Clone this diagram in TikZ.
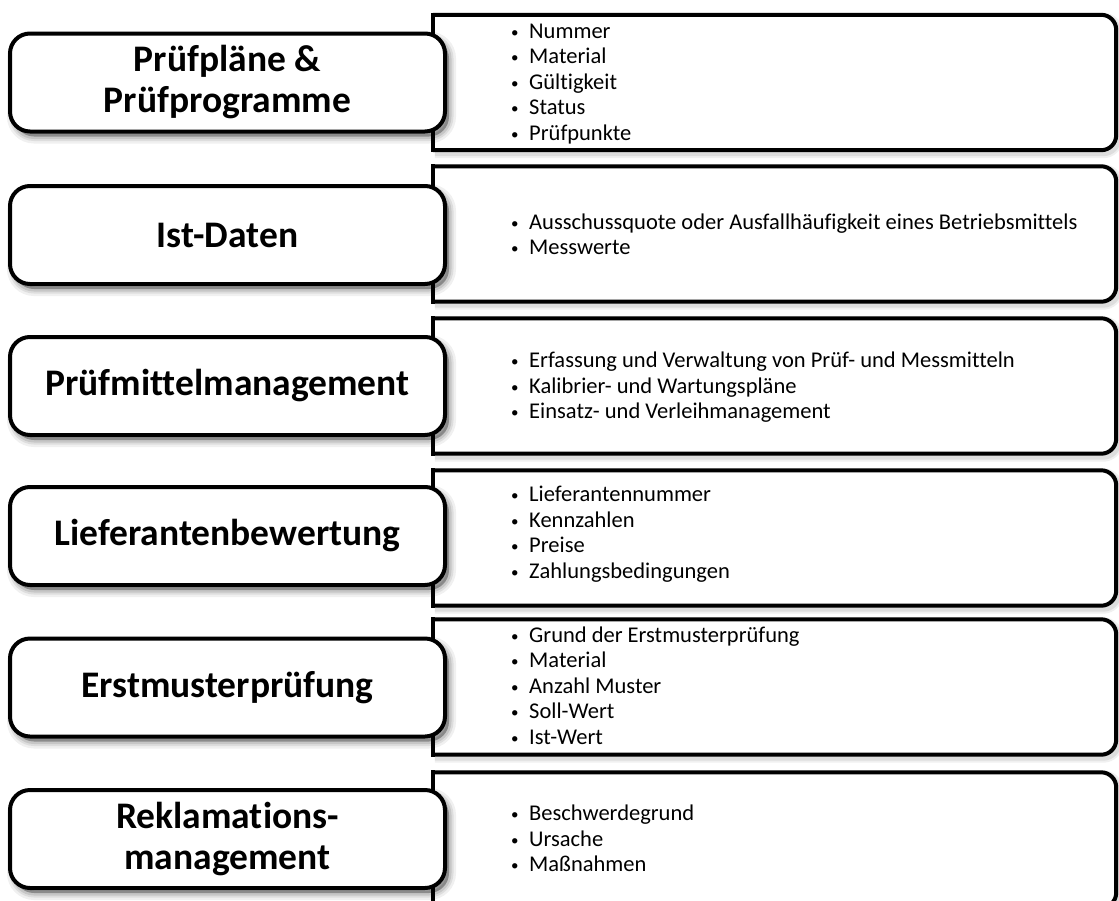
\documentclass[tikz,border=0pt]{standalone}
\usepackage{fontspec}
\setmainfont{Carlito}[Ligatures=NoCommon]

\tikzset{
  % soft drop shadow built from a few translucent, widening strokes
  softshadow/.style={
    preaction={fill=black, fill opacity=0.30, transform canvas={xshift=4pt, yshift=-5pt}},
    preaction={draw=black, draw opacity=0.06, line width=14pt, transform canvas={xshift=4pt, yshift=-5pt}},
    preaction={draw=black, draw opacity=0.08, line width=9pt, transform canvas={xshift=4pt, yshift=-5pt}},
    preaction={draw=black, draw opacity=0.10, line width=5pt, transform canvas={xshift=4pt, yshift=-5pt}}},
  lightshadow/.style={
    preaction={draw=black, draw opacity=0.06, line width=10pt, transform canvas={xshift=2pt, yshift=-3pt}},
    preaction={draw=black, draw opacity=0.08, line width=6pt, transform canvas={xshift=2pt, yshift=-3pt}}},
  topic/.style={draw=black, line width=4pt, fill=white, rounded corners=20pt,
      minimum width=435pt, minimum height=98pt, inner sep=0pt, align=center,
      font=\bfseries\fontsize{37.5}{41}\selectfont, softshadow},
  detailframe/.style={minimum width=683pt, minimum height=135pt, inner sep=0pt},
  detailedge/.style={draw=black, line width=4pt, fill=white, rounded corners=15pt},
  detailside/.style={draw=black, line width=4pt, line cap=rect},
  items/.style={anchor=west, inner sep=0pt, font=\fontsize{22.5}{25.5}\selectfont},
}
% one bullet line of a detail list
\newcommand{\bul}[1]{\makebox[21pt][l]{\hspace{3pt}\raisebox{1pt}{\fontsize{15}{15}\selectfont\textbullet}}#1}

\begin{document}
\begin{tikzpicture}[x=1pt, y=1pt]
  \useasboundingbox (0,0) rectangle (1119,-900);
  \clip (0,0) rectangle (1119,-900);

  % ---------- Row 1
  \node[detailframe] (d1) at (774.5,-82.5) {};
  \path[detailedge, lightshadow] (d1.north west) -- (d1.north east) -- (d1.south east) -- (d1.south west);
  \draw[detailside] (d1.north west) -- (d1.south west);
  \node[items] (t1) at (508,-84) {\begin{tabular}{@{}l@{}}
      \bul{Nummer}\\ \bul{Material}\\ \bul{Gültigkeit}\\ \bul{Status}\\ \bul{Prüfpunkte}
    \end{tabular}};
  \node[topic] (k1) at (227.5,-82.5) {Prüfpläne \&\\Prüfprogramme};

  % ---------- Row 2
  \node[detailframe] (d2) at (774.5,-234) {};
  \path[detailedge, lightshadow] (d2.north west) -- (d2.north east) -- (d2.south east) -- (d2.south west);
  \draw[detailside] (d2.north west) -- (d2.south west);
  \node[items] (t2) at (508,-237) {\begin{tabular}{@{}l@{}}
      \bul{Ausschussquote oder Ausfallhäufigkeit eines Betriebsmittels}\\ \bul{Messwerte}
    \end{tabular}};
  \node[topic] (k2) at (227.5,-235) {Ist-Daten};

  % ---------- Row 3
  \node[detailframe] (d3) at (774.5,-386) {};
  \path[detailedge, lightshadow] (d3.north west) -- (d3.north east) -- (d3.south east) -- (d3.south west);
  \draw[detailside] (d3.north west) -- (d3.south west);
  \node[items] (t3) at (508,-388) {\begin{tabular}{@{}l@{}}
      \bul{Erfassung und Verwaltung von Prüf- und Messmitteln}\\
      \bul{Kalibrier- und Wartungspläne}\\
      \bul{Einsatz- und Verleihmanagement}
    \end{tabular}};
  \node[topic] (k3) at (227.5,-386) {Prüfmittelmanagement};

  % ---------- Row 4
  \node[detailframe] (d4) at (774.5,-538) {};
  \path[detailedge, lightshadow] (d4.north west) -- (d4.north east) -- (d4.south east) -- (d4.south west);
  \draw[detailside] (d4.north west) -- (d4.south west);
  \node[items] (t4) at (508,-535) {\begin{tabular}{@{}l@{}}
      \bul{Lieferantennummer}\\ \bul{Kennzahlen}\\ \bul{Preise}\\ \bul{Zahlungsbedingungen}
    \end{tabular}};
  \node[topic] (k4) at (227.5,-536) {Lieferantenbewertung};

  % ---------- Row 5
  \node[detailframe] (d5) at (774.5,-687) {};
  \path[detailedge, lightshadow] (d5.north west) -- (d5.north east) -- (d5.south east) -- (d5.south west);
  \draw[detailside] (d5.north west) -- (d5.south west);
  \node[items] (t5) at (508,-688) {\begin{tabular}{@{}l@{}}
      \bul{Grund der Erstmusterprüfung}\\ \bul{Material}\\ \bul{Anzahl Muster}\\
      \bul{Soll-Wert}\\ \bul{Ist-Wert}
    \end{tabular}};
  \node[topic] (k5) at (227.5,-687.5) {Erstmusterprüfung};

  % ---------- Row 6
  \node[detailframe] (d6) at (774.5,-840) {};
  \path[detailedge, lightshadow] (d6.north west) -- (d6.north east) -- (d6.south east) -- (d6.south west);
  \draw[detailside] (d6.north west) -- (d6.south west);
  \node[items] (t6) at (508,-841) {\begin{tabular}{@{}l@{}}
      \bul{Beschwerdegrund}\\ \bul{Ursache}\\ \bul{Maßnahmen}
    \end{tabular}};
  \node[topic] (k6) at (227.5,-839) {Reklamations-\\management};
\end{tikzpicture}
\end{document}
